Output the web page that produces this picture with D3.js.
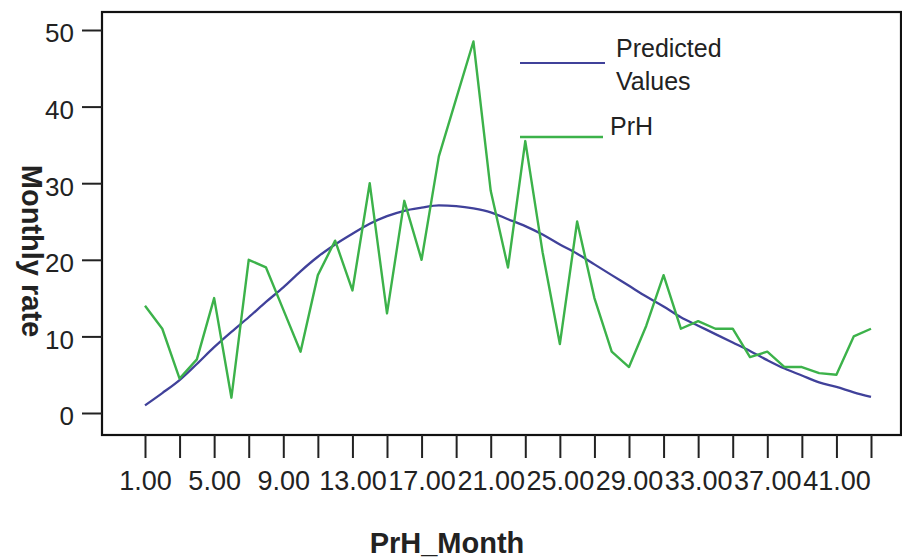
<!DOCTYPE html>
<html>
<head>
<meta charset="utf-8">
<script src="https://cdn.jsdelivr.net/npm/d3@7"></script>
<style>
  body { margin: 0; background: #fff; }
  text { font-family: "Liberation Sans", Arial, sans-serif; fill: #222; }
</style>
</head>
<body>
<svg id="chart"></svg>
<script>
// months on the x axis
const months = [1, 2, 3, 4, 5, 6, 7, 8, 9, 10, 11, 12, 13, 14, 15, 16, 17, 18, 19, 20, 21,
  22, 23, 24, 25, 26, 27, 28, 29, 30, 31, 32, 33, 34, 35, 36, 37, 38, 39, 40, 41, 42, 43]

// observed PrH monthly rate
const prh = [14, 11, 4.5, 7, 15, 2, 20, 19, 13.5, 8, 18, 22.5, 16, 30, 13, 27.7, 20, 33.5, 41, 48.5, 29,
  19, 35.5, 21, 9, 25, 15, 8, 6, 11.4, 18, 11, 12, 11, 11, 7.3, 8, 6, 6, 5.2, 5, 10, 11]

// predicted values (fitted curve)
const predicted = [1.0, 2.6, 4.3, 6.4, 8.6, 10.6, 12.5, 14.5, 16.4, 18.5, 20.4, 22.0, 23.4, 24.7, 25.7, 26.4,
  26.8, 27.1, 27.0, 26.7, 26.2, 25.3, 24.4, 23.3, 22.0, 20.8, 19.4, 18.0, 16.6, 15.2, 13.9, 12.5,
  11.4, 10.3, 9.2, 8.1, 6.9, 5.8, 4.9, 4.0, 3.4, 2.7, 2.1]

// tick marks / labels
const xTicks = [1, 3, 5, 7, 9, 11, 13, 15, 17, 19, 21, 23, 25, 27, 29, 31, 33, 35, 37, 39, 41, 43]
const xTickLabels = [1, 5, 9, 13, 17, 21, 25, 29, 33, 37, 41]
const yTicks = [0, 10, 20, 30, 40, 50]

const w = 902
const h = 560
const frame = { left: 102, top: 12, right: 901, bottom: 435 }
const blue = '#40419a'
const green = '#3cb24a'

const svg = d3.select('#chart')
  .attr('width', w)
  .attr('height', h)

const xScale = d3.scaleLinear()
  .domain([1, 43])
  .range([145, 871])
const yScale = d3.scaleLinear()
  .domain([0, 50])
  .range([413, 30])

// frame round the plot
svg.append('rect')
  .attr('x', frame.left)
  .attr('y', frame.top)
  .attr('width', frame.right - frame.left)
  .attr('height', frame.bottom - frame.top)
  .attr('fill', 'none')
  .attr('stroke', '#111')
  .attr('stroke-width', 2.2)

// x axis
const xAxis = d3.axisBottom(xScale)
  .tickValues(xTicks)
  .tickSize(23)
  .tickFormat(d => xTickLabels.includes(d) ? d.toFixed(2) : '')
const gx = svg.append('g')
  .attr('transform', `translate(0, ${frame.bottom})`)
  .call(xAxis)
gx.select('.domain').remove()
gx.selectAll('.tick line').attr('stroke', '#222').attr('stroke-width', 2)
gx.selectAll('.tick text')
  .attr('y', 55)
  .attr('dy', 0)
  .style('font-size', '27px')
  .style('fill', '#222')

// y axis
const yAxis = d3.axisLeft(yScale)
  .tickValues(yTicks)
  .tickSize(20)
  .tickPadding(8)
const gy = svg.append('g')
  .attr('transform', `translate(${frame.left}, 0)`)
  .call(yAxis)
gy.select('.domain').remove()
gy.selectAll('.tick line').attr('stroke', '#222').attr('stroke-width', 2)
gy.selectAll('.tick text')
  .attr('dy', '0.46em')
  .style('font-size', '26px')
  .style('fill', '#222')

// axis titles
svg.append('text')
  .attr('x', 447)
  .attr('y', 553)
  .attr('text-anchor', 'middle')
  .style('font-size', '29px')
  .style('font-weight', 'bold')
  .text('PrH_Month')

svg.append('text')
  .attr('transform', 'translate(22, 251) rotate(90)')
  .attr('text-anchor', 'middle')
  .style('font-size', '29px')
  .style('font-weight', 'bold')
  .text('Monthly rate')

// lines
const predLine = d3.line()
  .x((d, i) => xScale(months[i]))
  .y(d => yScale(d))
  .curve(d3.curveMonotoneX)
const obsLine = d3.line()
  .x((d, i) => xScale(months[i]))
  .y(d => yScale(d))

svg.append('path')
  .datum(predicted)
  .attr('d', predLine)
  .attr('fill', 'none')
  .attr('stroke', blue)
  .attr('stroke-width', 2.3)

svg.append('path')
  .datum(prh)
  .attr('d', obsLine)
  .attr('fill', 'none')
  .attr('stroke', green)
  .attr('stroke-width', 2.4)
  .attr('stroke-linejoin', 'round')

// legend
const legend = svg.append('g')
legend.append('line')
  .attr('x1', 520).attr('x2', 605)
  .attr('y1', 63).attr('y2', 63)
  .attr('stroke', blue)
  .attr('stroke-width', 2)
legend.append('text')
  .attr('x', 616).attr('y', 57)
  .style('font-size', '25px')
  .text('Predicted')
legend.append('text')
  .attr('x', 616).attr('y', 90)
  .style('font-size', '25px')
  .text('Values')
legend.append('line')
  .attr('x1', 520).attr('x2', 603)
  .attr('y1', 137).attr('y2', 137)
  .attr('stroke', green)
  .attr('stroke-width', 2.5)
legend.append('text')
  .attr('x', 610).attr('y', 135)
  .style('font-size', '25px')
  .text('PrH')
</script>
</body>
</html>
